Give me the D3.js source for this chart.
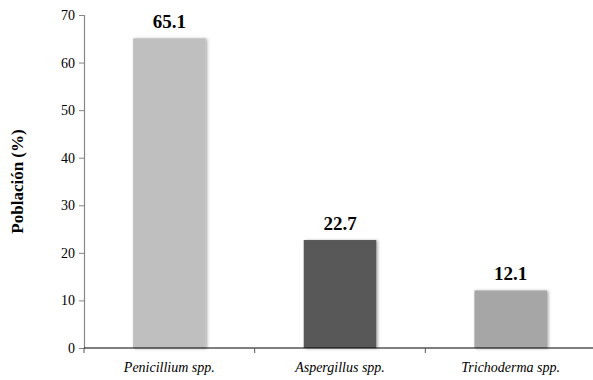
<!DOCTYPE html>
<html>
<head>
<meta charset="utf-8">
<script src="https://cdn.jsdelivr.net/npm/d3@7/dist/d3.min.js"></script>
</head>
<body style="margin:0">
<div id="chart"></div>
<script>
// Fungal genera and their share of the isolated population
const categories = ["Penicillium spp.", "Aspergillus spp.", "Trichoderma spp."];
const values = [65.1, 22.7, 12.1];
const barColors = ["#bfbfbf", "#595959", "#a6a6a6"];
const yTicks = [0, 10, 20, 30, 40, 50, 60, 70];
const yLabel = "Población (%)";

const FONT = "Liberation Serif";
// text is set large and scaled down so the serif face is kept at small sizes
const K = 0.5;
const width = 593, height = 380;
const margin = { top: 15, right: -3, bottom: 32, left: 84 };
const innerW = width - margin.left - margin.right;
const innerH = height - margin.top - margin.bottom;

const svg = d3.select("#chart").append("svg")
  .attr("width", width).attr("height", height)
  .style("display", "block");

// soft shadow under the bars
const defs = svg.append("defs");
const f = defs.append("filter").attr("id", "shadow")
  .attr("x", "-20%").attr("y", "-20%").attr("width", "140%").attr("height", "140%");
f.append("feDropShadow").attr("dx", 1.5).attr("dy", 0.5)
  .attr("stdDeviation", 1.6).attr("flood-color", "#000").attr("flood-opacity", 0.35);

const g = svg.append("g").attr("transform", `translate(${margin.left},${margin.top})`);

const x = d3.scaleBand().domain(categories).range([0, innerW])
  .paddingInner(0.575).paddingOuter(0.2875);
const y = d3.scaleLinear().domain([0, 70]).range([innerH, 0]);

// bars
g.selectAll("rect.bar").data(values).join("rect")
  .attr("class", "bar")
  .attr("x", (d, i) => x(categories[i]))
  .attr("width", x.bandwidth())
  .attr("y", d => y(d))
  .attr("height", d => y(0) - y(d))
  .attr("fill", (d, i) => barColors[i])
  .attr("filter", "url(#shadow)");

// value labels
g.selectAll("text.val").data(values).join("text")
  .attr("class", "val")
  .attr("transform", (d, i) => `translate(${x(categories[i]) + x.bandwidth() / 2},${y(d) - 10}) scale(${K})`)
  .attr("text-anchor", "middle")
  .attr("font-family", FONT)
  .attr("font-weight", "bold")
  .attr("font-size", 19 / K)
  .attr("fill", "#000")
  .text(d => d.toFixed(1));

// y axis
const tickSize = 5, tickPad = 4;
const yAxis = g.append("g")
  .call(d3.axisLeft(y).tickValues(yTicks).tickSize(tickSize).tickPadding(tickPad).tickFormat(d3.format("d")));
yAxis.attr("font-family", FONT).attr("font-size", 14 / K);
yAxis.select(".domain").attr("stroke", "#868686").attr("stroke-width", 1.2);
yAxis.selectAll(".tick line").attr("stroke", "#868686");
yAxis.selectAll(".tick text")
  .attr("x", -(tickSize + tickPad) / K)
  .attr("transform", `scale(${K})`)
  .attr("font-family", FONT).attr("font-size", 14 / K).attr("fill", "#000");

// x axis with boundary ticks between categories
const xAxis = g.append("g").attr("transform", `translate(0,${innerH})`);
xAxis.append("line")
  .attr("x1", 0).attr("x2", innerW).attr("y1", 0).attr("y2", 0)
  .attr("stroke", "#000").attr("stroke-width", 1.2);
const bounds = categories.map(c => x(c) - x.step() * x.paddingInner() / 2);
xAxis.selectAll("line.tk").data(bounds).join("line")
  .attr("class", "tk")
  .attr("x1", d => d).attr("x2", d => d)
  .attr("y1", 0).attr("y2", 5)
  .attr("stroke", "#555");
xAxis.selectAll("text.cat").data(categories).join("text")
  .attr("class", "cat")
  .attr("transform", d => `translate(${x(d) + x.bandwidth() / 2},24) scale(${K})`)
  .attr("text-anchor", "middle")
  .attr("font-family", FONT)
  .attr("font-style", "italic")
  .attr("font-size", 14 / K)
  .attr("fill", "#000")
  .text(d => d);

// y axis title
svg.append("text")
  .attr("transform", `translate(23,${margin.top + innerH / 2}) rotate(-90) scale(${K})`)
  .attr("text-anchor", "middle")
  .attr("font-family", FONT)
  .attr("font-weight", "bold")
  .attr("font-size", 17 / K)
  .attr("fill", "#000")
  .text(yLabel);
</script>
</body>
</html>
